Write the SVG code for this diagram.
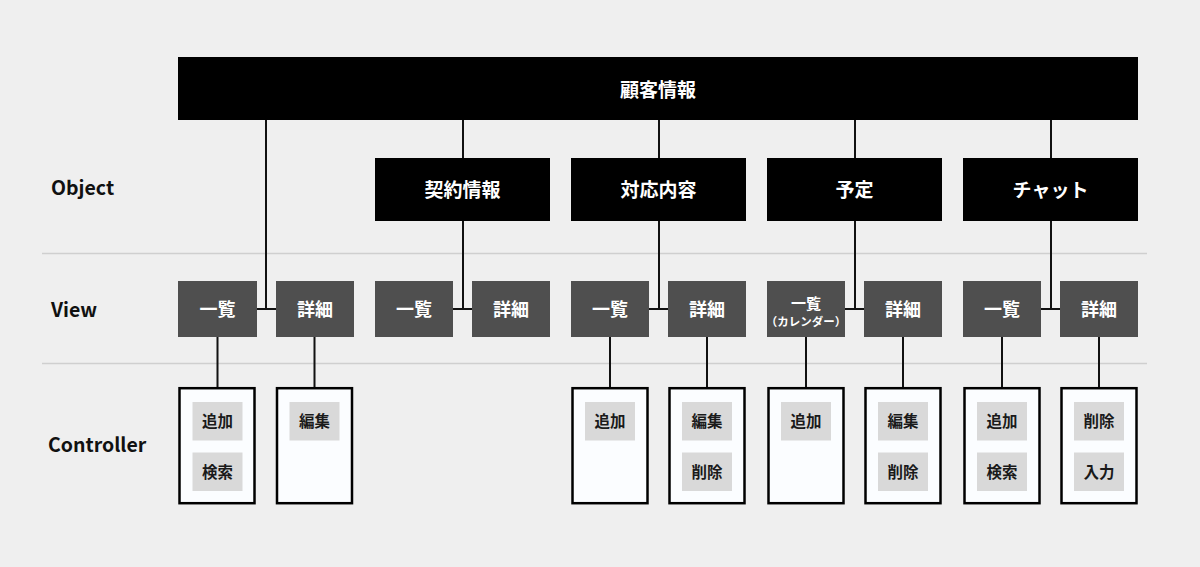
<svg xmlns="http://www.w3.org/2000/svg" width="1200" height="567" viewBox="0 0 1200 567">
<style>
text{font-family:"Noto Sans CJK JP","Noto Sans",sans-serif;font-weight:bold;text-anchor:middle}
.lbl{text-anchor:start;fill:#111;font-size:19.5px}
.obj{fill:#000}
.objt{fill:#fff;font-size:19px}
.view{fill:#4f4f4f}
.viewt{fill:#fff;font-size:18px}
.ctrl{fill:#fbfdff;stroke:#000;stroke-width:2.5}
.btn{fill:#d9d9d9}
.btnt{fill:#1a1a1a;font-size:15.5px}
.sep{stroke:#cfcfcf;stroke-width:1.3}
.con{stroke:#111;stroke-width:2;fill:none}
</style>
<rect width="1200" height="567" fill="#efefef"/>
<line class="sep" x1="42" y1="253.5" x2="1147" y2="253.5"/>
<line class="sep" x1="42" y1="363.5" x2="1147" y2="363.5"/>
<text class="lbl" x="51" y="195">Object</text>
<text class="lbl" x="51" y="317">View</text>
<text class="lbl" x="48" y="452">Controller</text>

<g id="connectors">
<path class="con" d="M266 120V309M257 309H276"/>
<path class="con" d="M463 120V158M463 221V309M453 309H472"/>
<path class="con" d="M659 120V158M659 221V309M649 309H668"/>
<path class="con" d="M855 120V158M855 221V309M845 309H864"/>
<path class="con" d="M1051 120V158M1051 221V309M1041 309H1060"/>
<path class="con" d="M217.5 337V388M314.5 337V388"/>
<path class="con" d="M610 337V388M707 337V388"/>
<path class="con" d="M806 337V388M903 337V388"/>
<path class="con" d="M1002 337V388M1099 337V388"/>
</g>

<g id="customer"><rect class="obj" x="178" y="57" width="960" height="63"/><text class="objt" x="658" y="97">顧客情報</text></g>
<g id="contract"><rect class="obj" x="375" y="158" width="175" height="63"/><text class="objt" x="462.5" y="197">契約情報</text></g>
<g id="response"><rect class="obj" x="571" y="158" width="175" height="63"/><text class="objt" x="658.5" y="197">対応内容</text></g>
<g id="schedule"><rect class="obj" x="767" y="158" width="175" height="63"/><text class="objt" x="854.5" y="197">予定</text></g>
<g id="chat"><rect class="obj" x="963" y="158" width="175" height="63"/><text class="objt" x="1050.5" y="197">チャット</text></g>

<g id="v1-list"><rect class="view" x="178" y="281" width="79" height="56"/><text class="viewt" x="217.5" y="315.5">一覧</text></g>
<g id="v1-detail"><rect class="view" x="276" y="281" width="78" height="56"/><text class="viewt" x="315" y="315.5">詳細</text></g>
<g id="v2-list"><rect class="view" x="375" y="281" width="78" height="56"/><text class="viewt" x="414" y="315.5">一覧</text></g>
<g id="v2-detail"><rect class="view" x="472" y="281" width="78" height="56"/><text class="viewt" x="511" y="315.5">詳細</text></g>
<g id="v3-list"><rect class="view" x="571" y="281" width="78" height="56"/><text class="viewt" x="610" y="315.5">一覧</text></g>
<g id="v3-detail"><rect class="view" x="668" y="281" width="78" height="56"/><text class="viewt" x="707" y="315.5">詳細</text></g>
<g id="v4-list"><rect class="view" x="767" y="281" width="78" height="56"/><text class="viewt" x="806" y="308.5" style="font-size:15px">一覧</text><text class="viewt" x="806" y="325.5" style="font-size:11.5px">（カレンダー）</text></g>
<g id="v4-detail"><rect class="view" x="864" y="281" width="78" height="56"/><text class="viewt" x="903" y="315.5">詳細</text></g>
<g id="v5-list"><rect class="view" x="963" y="281" width="78" height="56"/><text class="viewt" x="1002" y="315.5">一覧</text></g>
<g id="v5-detail"><rect class="view" x="1060" y="281" width="78" height="56"/><text class="viewt" x="1099" y="315.5">詳細</text></g>

<g id="c1-list"><rect class="ctrl" x="179.5" y="388.2" width="75" height="115"/>
<rect class="btn" x="192.5" y="402" width="50" height="38.5"/><text class="btnt" x="217.5" y="427">追加</text>
<rect class="btn" x="192.5" y="452.5" width="50" height="38.5"/><text class="btnt" x="217.5" y="477.5">検索</text></g>
<g id="c1-detail"><rect class="ctrl" x="277" y="388.2" width="75" height="115"/>
<rect class="btn" x="289.5" y="402" width="50" height="38.5"/><text class="btnt" x="314.5" y="427">編集</text></g>

<g id="c3-list"><rect class="ctrl" x="572.5" y="388.2" width="75" height="115"/>
<rect class="btn" x="585" y="402" width="50" height="38.5"/><text class="btnt" x="610" y="427">追加</text></g>
<g id="c3-detail"><rect class="ctrl" x="669.5" y="388.2" width="75" height="115"/>
<rect class="btn" x="682" y="402" width="50" height="38.5"/><text class="btnt" x="707" y="427">編集</text>
<rect class="btn" x="682" y="452.5" width="50" height="38.5"/><text class="btnt" x="707" y="477.5">削除</text></g>

<g id="c4-list"><rect class="ctrl" x="768.5" y="388.2" width="75" height="115"/>
<rect class="btn" x="781" y="402" width="50" height="38.5"/><text class="btnt" x="806" y="427">追加</text></g>
<g id="c4-detail"><rect class="ctrl" x="865.5" y="388.2" width="75" height="115"/>
<rect class="btn" x="878" y="402" width="50" height="38.5"/><text class="btnt" x="903" y="427">編集</text>
<rect class="btn" x="878" y="452.5" width="50" height="38.5"/><text class="btnt" x="903" y="477.5">削除</text></g>

<g id="c5-list"><rect class="ctrl" x="964.5" y="388.2" width="75" height="115"/>
<rect class="btn" x="977" y="402" width="50" height="38.5"/><text class="btnt" x="1002" y="427">追加</text>
<rect class="btn" x="977" y="452.5" width="50" height="38.5"/><text class="btnt" x="1002" y="477.5">検索</text></g>
<g id="c5-detail"><rect class="ctrl" x="1061.5" y="388.2" width="75" height="115"/>
<rect class="btn" x="1074" y="402" width="50" height="38.5"/><text class="btnt" x="1099" y="427">削除</text>
<rect class="btn" x="1074" y="452.5" width="50" height="38.5"/><text class="btnt" x="1099" y="477.5">入力</text></g>
</svg>
